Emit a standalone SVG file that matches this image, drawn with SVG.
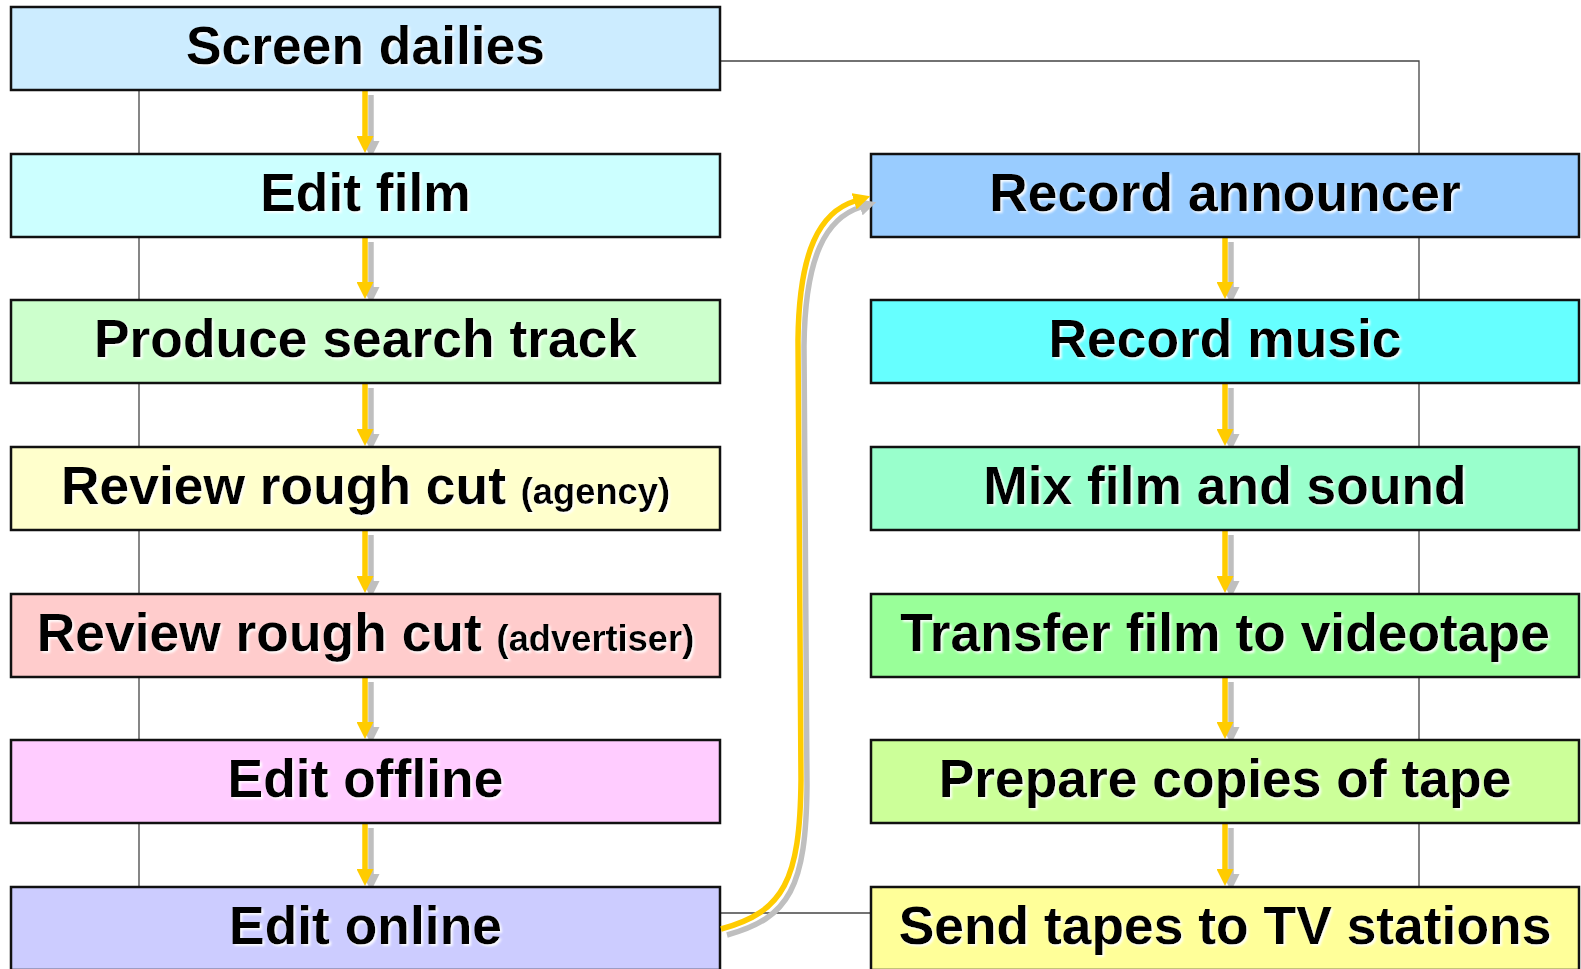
<svg xmlns="http://www.w3.org/2000/svg" width="1581" height="969" viewBox="0 0 1581 969">
  <style>
    .box { stroke: #111; stroke-width: 2.5; }
    .lbl { font-family: "Liberation Sans", Arial, sans-serif; font-weight: bold; font-size: 53.4px; fill: #000; text-anchor: middle; filter: url(#glow); }
    .sm { font-size: 36.3px; }
    .guide { fill: none; stroke: #444; stroke-width: 1.3; }
    .flow { fill: none; stroke: #FFCC00; stroke-width: 5.5; marker-end: url(#headY); }
    .flowShadow { fill: none; stroke: #BFBFBF; stroke-width: 5.5; marker-end: url(#headG); }
  </style>
  <defs>
    <filter id="glow" x="-5%" y="-20%" width="110%" height="140%">
      <feDropShadow dx="2" dy="2" stdDeviation="1" flood-color="#ffffff" flood-opacity="0.9"/>
    </filter>
    <marker id="headY" viewBox="0 0 17 17" markerWidth="17" markerHeight="17" markerUnits="userSpaceOnUse" refX="1" refY="8.5" orient="auto">
      <path d="M0,0 L17,8.5 L0,17 z" fill="#FFCC00"/>
    </marker>
    <marker id="headG" viewBox="0 0 17 17" markerWidth="17" markerHeight="17" markerUnits="userSpaceOnUse" refX="1" refY="8.5" orient="auto">
      <path d="M0,0 L17,8.5 L0,17 z" fill="#BFBFBF"/>
    </marker>
  </defs>

  <rect width="1581" height="969" fill="#ffffff"/>

  <!-- connectors: thin guide lines, arrow shadows, arrows -->
  <g id="connectors">
    <path class="guide" d="M139,48 V930"/>
    <path class="guide" d="M714,61 H1419 V930"/>
    <path class="guide" d="M714,913 H871"/>

    <g transform="translate(6,5)">
      <path class="flowShadow" d="M365,90 V137"/>
      <path class="flowShadow" d="M365,237 V283"/>
      <path class="flowShadow" d="M365,383 V430"/>
      <path class="flowShadow" d="M365,530 V577"/>
      <path class="flowShadow" d="M365,677 V723"/>
      <path class="flowShadow" d="M365,823 V870"/>
      <path class="flowShadow" d="M1225,237 V283"/>
      <path class="flowShadow" d="M1225,383 V430"/>
      <path class="flowShadow" d="M1225,530 V577"/>
      <path class="flowShadow" d="M1225,677 V723"/>
      <path class="flowShadow" d="M1225,823 V870"/>
    </g>
    <path class="flow" d="M365,90 V137"/>
    <path class="flow" d="M365,237 V283"/>
    <path class="flow" d="M365,383 V430"/>
    <path class="flow" d="M365,530 V577"/>
    <path class="flow" d="M365,677 V723"/>
    <path class="flow" d="M365,823 V870"/>
    <path class="flow" d="M1225,237 V283"/>
    <path class="flow" d="M1225,383 V430"/>
    <path class="flow" d="M1225,530 V577"/>
    <path class="flow" d="M1225,677 V723"/>
    <path class="flow" d="M1225,823 V870"/>
  </g>

  <!-- left column -->
  <g id="screen-dailies">
    <rect class="box" x="11" y="7" width="709" height="83" fill="#CCECFF"/>
    <text class="lbl" x="365.5" y="64">Screen dailies</text>
  </g>
  <g id="edit-film">
    <rect class="box" x="11" y="154" width="709" height="83" fill="#CCFFFF"/>
    <text class="lbl" x="365.5" y="211">Edit film</text>
  </g>
  <g id="produce-search-track">
    <rect class="box" x="11" y="300" width="709" height="83" fill="#CCFFCC"/>
    <text class="lbl" x="365.5" y="357">Produce search track</text>
  </g>
  <g id="review-agency">
    <rect class="box" x="11" y="447" width="709" height="83" fill="#FFFFCC"/>
    <text class="lbl" x="365.5" y="504">Review rough cut <tspan class="sm">(agency)</tspan></text>
  </g>
  <g id="review-advertiser">
    <rect class="box" x="11" y="594" width="709" height="83" fill="#FFCCCC"/>
    <text class="lbl" x="365.5" y="651">Review rough cut <tspan class="sm">(advertiser)</tspan></text>
  </g>
  <g id="edit-offline">
    <rect class="box" x="11" y="740" width="709" height="83" fill="#FFCCFF"/>
    <text class="lbl" x="365.5" y="797">Edit offline</text>
  </g>
  <g id="edit-online">
    <rect class="box" x="11" y="887" width="709" height="83" fill="#CCCCFF"/>
    <text class="lbl" x="365.5" y="944">Edit online</text>
  </g>

  <!-- right column -->
  <g id="record-announcer">
    <rect class="box" x="871" y="154" width="708" height="83" fill="#99CCFF"/>
    <text class="lbl" x="1225" y="211">Record announcer</text>
  </g>
  <g id="record-music">
    <rect class="box" x="871" y="300" width="708" height="83" fill="#66FFFF"/>
    <text class="lbl" x="1225" y="357">Record music</text>
  </g>
  <g id="mix-film-sound">
    <rect class="box" x="871" y="447" width="708" height="83" fill="#99FFCC"/>
    <text class="lbl" x="1225" y="504">Mix film and sound</text>
  </g>
  <g id="transfer-videotape">
    <rect class="box" x="871" y="594" width="708" height="83" fill="#99FF99"/>
    <text class="lbl" x="1225" y="651">Transfer film to videotape</text>
  </g>
  <g id="prepare-copies">
    <rect class="box" x="871" y="740" width="708" height="83" fill="#CCFF99"/>
    <text class="lbl" x="1225" y="797">Prepare copies of tape</text>
  </g>
  <g id="send-tapes">
    <rect class="box" x="871" y="887" width="708" height="83" fill="#FFFF99"/>
    <text class="lbl" x="1225" y="944">Send tapes to TV stations</text>
  </g>

  <!-- hand-off from the picture edit to the sound work -->
  <g id="connector-online-to-announcer">
    <path class="flowShadow" transform="translate(6,6)" d="M721,929 C784,912 800,880 801,780 L798,340 C799,250 820,212 855,201"/>
    <path class="flow" d="M721,929 C784,912 800,880 801,780 L798,340 C799,250 820,212 855,201"/>
  </g>
</svg>
